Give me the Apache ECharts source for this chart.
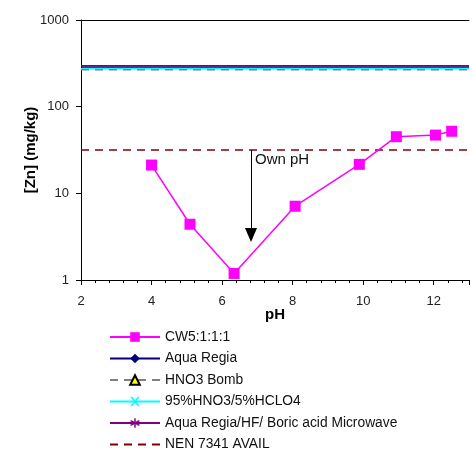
<!DOCTYPE html>
<html><head><meta charset="utf-8">
<script src="https://cdn.jsdelivr.net/npm/echarts@6/dist/echarts.min.js"></script>
<style>html,body{margin:0;padding:0;background:#fff}#c{width:472px;height:462px}</style>
</head><body><div id="c"></div>
<script>
const cwPH = [4.0, 5.09, 6.34, 8.07, 9.89, 10.94, 12.05, 12.51];
const cwZn = [21.2, 4.4, 1.19, 7.1, 21.6, 45, 47, 52];
const xRange = [2, 13];
const aquaRegia = 286;
const hno3Bomb = 266;
const hno3hclo4 = 274;
const microwave = 296;
const nenAvail = 31.6;
const arrowPH = 6.82;
const arrowFrom = 31.6;
const arrowTo = 3.3;
const labelZn = 24.2;
const xTicks = [2, 4, 6, 8, 10, 12];
const yTicks = [1, 10, 100, 1000];

const F = 'Liberation Sans, Arial, sans-serif';
const xPath = 'path://M0,0 L2,0 L5,3.5 L8,0 L10,0 L6,5 L10,10 L8,10 L5,6.5 L2,10 L0,10 L4,5 Z';
const starPath = 'path://M4.3,0 H5.7 V3.8 L9,1.9 L9.7,3.1 L6.4,5 L9.7,6.9 L9,8.1 L5.7,6.2 V10 H4.3 V6.2 L1,8.1 L0.3,6.9 L3.6,5 L0.3,3.1 L1,1.9 L4.3,3.8 Z';

function hline(name, v, color, symbol, symCol, symBorder, dashed, symSize) {
  return {
    name, type: 'line', data: xRange.map(x => [x, v]),
    showSymbol: false, symbol, symbolSize: symSize,
    itemStyle: {color: symCol, borderColor: symBorder || symCol, borderWidth: symBorder ? 1 : 0},
    lineStyle: {color, width: 1.5, type: dashed ? [8, 6] : 'solid'},
    color, z: 2, silent: true
  };
}

const chart = echarts.init(document.getElementById('c'));
chart.setOption({
  animation: false,
  textStyle: {fontFamily: F},
  grid: {left: 81, top: 20, right: 0.5, bottom: 182, show: false},
  xAxis: [{
    type: 'value', min: xRange[0], max: xRange[1], interval: 2,
    name: 'pH', nameLocation: 'middle', nameGap: 27, nameMoveOverlap: false,
    nameTextStyle: {fontFamily: F, fontSize: 15, fontWeight: 'bold', color: '#000'},
    axisLine: {lineStyle: {color: '#000', width: 1}},
    axisTick: {show: true, inside: false, length: 5, lineStyle: {color: '#000'}},
    minorTick: {show: true, splitNumber: 5, length: 3, lineStyle: {color: '#000'}},
    axisLabel: {fontFamily: F, fontSize: 13, color: '#222', margin: 15,
      formatter: v => xTicks.includes(v) ? String(v) : ''},
    splitLine: {show: false}
  }, {
    type: 'value', position: 'top', min: xRange[0], max: xRange[1],
    axisLine: {show: true, lineStyle: {color: '#000', width: 1}},
    axisTick: {show: false}, axisLabel: {show: false}, splitLine: {show: false}
  }],
  yAxis: {
    type: 'log', logBase: 10, min: yTicks[0], max: yTicks[yTicks.length - 1],
    name: '[Zn] (mg/kg)', nameLocation: 'middle', nameGap: 43, nameMoveOverlap: false,
    nameTextStyle: {fontFamily: F, fontSize: 15, fontWeight: 'bold', color: '#000'},
    axisLine: {show: true, lineStyle: {color: '#000', width: 1}},
    axisTick: {show: true, inside: false, length: 5, lineStyle: {color: '#000'}},
    axisLabel: {fontFamily: F, fontSize: 13, color: '#222', margin: 12,
      formatter: v => String(Math.round(v))},
    splitLine: {show: false}
  },
  legend: {
    orient: 'vertical', left: 104, top: 325, itemGap: 7.5, itemWidth: 50, itemHeight: 12,
    textStyle: {fontFamily: F, fontSize: 13.8, color: '#111'},
    data: ['CW5:1:1:1', 'Aqua Regia', 'HNO3 Bomb', '95%HNO3/5%HCLO4', 'Aqua Regia/HF/ Boric acid Microwave', 'NEN 7341 AVAIL']
  },
  series: [
    hline('Aqua Regia', aquaRegia, '#000080', 'diamond', '#000080', null, false, 10),
    hline('95%HNO3/5%HCLO4', hno3hclo4, '#00FFFF', xPath, '#00FFFF', null, false, 10),
    hline('HNO3 Bomb', hno3Bomb, '#808080', 'triangle', '#FFFF00', '#000', true, 9),
    hline('Aqua Regia/HF/ Boric acid Microwave', microwave, '#800080', starPath, '#800080', null, false, 11),
    hline('NEN 7341 AVAIL', nenAvail, '#800000', 'circle', 'rgba(0,0,0,0)', null, true, 0),
    {
      name: 'CW5:1:1:1', type: 'line', data: cwPH.map((x, i) => [x, cwZn[i]]),
      symbol: 'rect', symbolSize: 11, showSymbol: true,
      itemStyle: {color: '#FF00FF'}, lineStyle: {color: '#FF00FF', width: 1.5},
      color: '#FF00FF', z: 5,
      markLine: {
        silent: true, symbol: ['none', 'triangle'], symbolSize: [12, 14],
        lineStyle: {color: '#000', width: 1, type: 'solid'},
        label: {show: false},
        data: [[{coord: [arrowPH, arrowFrom]}, {coord: [arrowPH, arrowTo]}]]
      },
      markPoint: {
        silent: true, symbol: 'circle', symbolSize: 0,
        label: {show: true, position: 'right', distance: 4, formatter: 'Own pH', fontFamily: F, fontSize: 15, color: '#111'},
        data: [{coord: [arrowPH, labelZn]}]
      }
    }
  ]
});
</script></body></html>
